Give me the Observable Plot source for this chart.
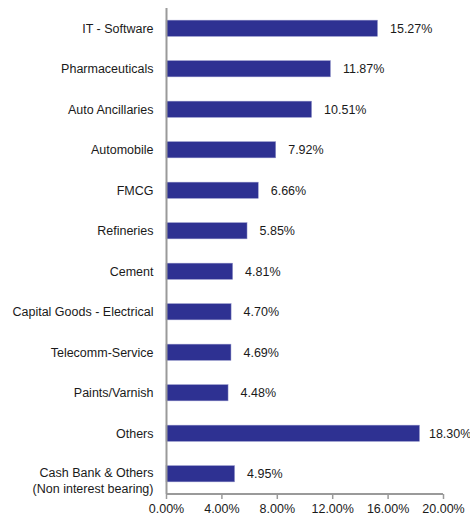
<!DOCTYPE html>
<html>
<head>
<meta charset="utf-8">
<script src="https://cdn.jsdelivr.net/npm/d3@7"></script>
<script src="https://cdn.jsdelivr.net/npm/@observablehq/plot@0.6"></script>
<style>
  html, body { margin: 0; padding: 0; background: #fff; }
  #chart svg { display: block; font-family: "Liberation Sans", Arial, sans-serif; }
</style>
</head>
<body>
<div id="chart"></div>
<script>
const sectors = [
  "IT - Software",
  "Pharmaceuticals",
  "Auto Ancillaries",
  "Automobile",
  "FMCG",
  "Refineries",
  "Cement",
  "Capital Goods - Electrical",
  "Telecomm-Service",
  "Paints/Varnish",
  "Others",
  "Cash Bank & Others\n(Non interest bearing)"
];
const weights = [15.27, 11.87, 10.51, 7.92, 6.66, 5.85, 4.81, 4.70, 4.69, 4.48, 18.30, 4.95];
const xTicks = [0, 4, 8, 12, 16, 20];

const data = sectors.map((s, i) => ({sector: s, value: weights[i]}));
const singleLine = data.filter(d => !d.sector.includes("\n"));
const multiLine = data.filter(d => d.sector.includes("\n"));
const maxVal = d3.max(weights);
const normalLabels = data.filter(d => d.value !== maxVal);
const edgeLabels = data.filter(d => d.value === maxVal);

const barColor = "#2E3192";
const axisColor = "#9a9a9a";
const textColor = "#1a1a1a";
const fmt = v => v.toFixed(2) + "%";

const bottomLine = (index, scales, values, dims) => {
  const y0 = dims.height - dims.marginBottom;
  return d3.create("svg:line")
    .attr("x1", scales.x(xTicks[0]))
    .attr("x2", scales.x(xTicks[xTicks.length - 1]))
    .attr("y1", y0).attr("y2", y0)
    .attr("stroke", axisColor)
    .attr("stroke-width", 2)
    .node();
};

const chart = Plot.plot({
  width: 470,
  height: 522,
  marginLeft: 166,
  marginRight: 27,
  marginTop: 8,
  marginBottom: 28,
  style: {fontFamily: "'Liberation Sans', Arial, sans-serif", fontSize: "12px", color: textColor, background: "#fff"},
  x: {domain: [0, 20]},
  y: {domain: sectors, paddingInner: 0.6, paddingOuter: 0.3, round: false, axis: null},
  marks: [
    Plot.barX(data, {x: "value", y: "sector", fill: barColor, stroke: "#8f92c8", strokeWidth: 0.5}),
    Plot.text(normalLabels, {x: "value", y: "sector", text: d => fmt(d.value), textAnchor: "start", dx: 12, fontSize: 12.5, fill: textColor}),
    Plot.text(edgeLabels, {x: "value", y: "sector", text: d => fmt(d.value), textAnchor: "start", dx: 9, fontSize: 12.5, fill: textColor}),
    Plot.text(singleLine, {x: 0, y: "sector", text: "sector", textAnchor: "end", dx: -13, fontSize: 12.5, fill: textColor}),
    Plot.text(multiLine, {x: 0, y: "sector", text: "sector", textAnchor: "end", dx: -13, lineAnchor: "top", dy: -8, lineHeight: 1.25, fontSize: 12.5, fill: textColor}),
    Plot.ruleX([0], {stroke: axisColor, strokeWidth: 2}),
    bottomLine,
    Plot.axisX({ticks: xTicks, tickFormat: fmt, tickSize: 5, tickPadding: 5, stroke: axisColor, strokeWidth: 1.5, fontSize: 12.5, color: textColor, label: null})
  ]
});
document.getElementById("chart").appendChild(chart);
</script>
</body>
</html>
